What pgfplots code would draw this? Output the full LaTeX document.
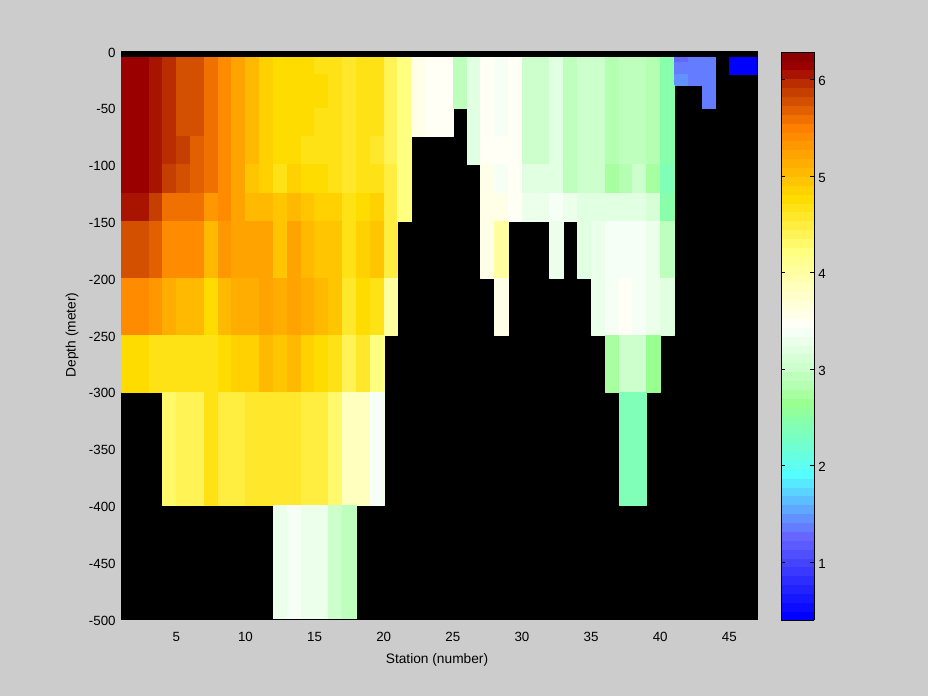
\documentclass[border=0pt]{standalone}
\usepackage{fontspec}
\setmainfont{Liberation Sans}
\usepackage{pgfplots}
\pgfplotsset{compat=1.18}
\definecolor{figbg}{RGB}{204,204,204}

% cells: top depth, bottom depth, one value per station interval (0 = no data)
\gdef\celldata{}
\newcommand\addrow[3]{%
  \foreach \v [count=\c] in {#3} {%
    \ifdim\v pt>0pt
      \xdef\celldata{\celldata
        (\c,#1) [\v] (\the\numexpr\c+1\relax,#1) [\v]
        (\the\numexpr\c+1\relax,#2) [\v] (\c,#2) [\v] }%
    \fi
  }%
}
\addrow{-5}{-10}{6.15,6.15,6.06,5.97,5.75,5.75,5.59,5.4,5.2,5.03,4.87,4.75,4.75,4.75,4.68,4.68,4.58,4.66,4.66,4.42,4.22,3.55,3.5,3.5,2.93,3.2,3.48,3.4,3.5,3.02,3.02,3.2,2.93,3.02,3.02,2.86,2.93,2.93,2.86,2.47,1.25,1.4,1.4,0,0.45,0.45}
\addrow{-10}{-20}{6.15,6.15,6.06,5.97,5.75,5.75,5.59,5.4,5.2,5.03,4.87,4.75,4.75,4.75,4.68,4.68,4.58,4.66,4.66,4.42,4.22,3.55,3.5,3.5,2.93,3.2,3.48,3.4,3.5,3.02,3.02,3.2,2.93,3.02,3.02,2.86,2.93,2.93,2.86,2.47,1.4,1.4,1.4,0,0.45,0.45}
\addrow{-20}{-30}{6.15,6.15,6.06,5.97,5.75,5.75,5.59,5.4,5.2,5.03,4.87,4.75,4.75,4.75,4.75,4.68,4.58,4.66,4.66,4.42,4.22,3.55,3.5,3.5,2.93,3.2,3.48,3.4,3.5,3.02,3.02,3.2,2.93,3.02,3.02,2.86,2.93,2.93,2.86,2.47,1.5,1.4,1.4,0,0,0}
\addrow{-30}{-50}{6.15,6.15,6.06,5.97,5.75,5.75,5.59,5.4,5.2,5.03,4.87,4.75,4.75,4.75,4.75,4.68,4.58,4.66,4.66,4.42,4.22,3.55,3.5,3.5,2.93,3.2,3.48,3.4,3.5,3.02,3.02,3.2,2.93,3.02,3.02,2.86,2.93,2.93,2.86,2.47,0,0,1.4,0,0,0}
\addrow{-50}{-75}{6.15,6.15,6.06,5.97,5.75,5.75,5.59,5.4,5.2,5.03,4.87,4.75,4.75,4.75,4.68,4.68,4.58,4.66,4.66,4.42,4.22,3.55,3.5,3.5,0,3.2,3.48,3.4,3.5,3.02,3.02,3.2,2.93,3.02,3.02,2.86,2.93,2.93,2.86,2.47,0,0,0,0,0,0}
\addrow{-75}{-100}{6.15,6.15,6.06,5.97,5.87,5.68,5.59,5.4,5.2,5.03,4.87,4.75,4.75,4.68,4.68,4.68,4.58,4.66,4.55,4.42,4.22,0,0,0,0,3.2,3.48,3.5,3.5,3.02,3.02,3.2,2.93,3.02,3.02,2.86,2.93,2.93,2.86,2.47,0,0,0,0,0,0}
\addrow{-100}{-125}{6.15,6.15,6.06,5.87,5.78,5.68,5.59,5.4,5.2,4.97,4.87,4.72,4.85,4.75,4.75,4.68,4.6,4.7,4.7,4.47,4.22,0,0,0,0,0,3.58,3.38,3.48,3.2,3.2,3.2,2.93,3.02,3.02,2.75,2.86,3.0,2.75,2.38,0,0,0,0,0,0}
\addrow{-125}{-150}{6.06,6.06,5.87,5.59,5.59,5.59,5.32,5.45,5.2,5.08,5.08,4.94,5.03,4.94,4.85,4.85,4.72,4.75,4.87,4.47,4.22,0,0,0,0,0,3.58,3.58,3.5,3.3,3.3,3.4,3.3,3.2,3.2,3.2,3.2,3.2,3.1,2.47,0,0,0,0,0,0}
\addrow{-150}{-200}{5.75,5.75,5.68,5.4,5.4,5.4,5.03,5.3,5.2,5.2,5.2,4.97,5.2,5.0,4.94,4.94,4.7,4.85,4.97,4.47,0,0,0,0,0,0,3.58,4.05,0,0,0,3.3,0,3.2,3.3,3.38,3.38,3.38,3.3,2.93,0,0,0,0,0,0}
\addrow{-200}{-250}{5.4,5.4,5.32,5.12,5.03,5.03,4.75,5.0,5.12,5.12,5.2,5.15,5.25,5.15,5.08,4.97,4.62,4.75,4.68,4.05,0,0,0,0,0,0,0,3.58,0,0,0,0,0,0,3.3,3.38,3.48,3.4,3.3,3.2,0,0,0,0,0,0}
\addrow{-250}{-300}{4.75,4.75,4.7,4.7,4.7,4.63,4.63,4.75,4.85,4.87,5.0,4.94,5.0,4.82,4.77,4.68,4.42,4.55,4.22,0,0,0,0,0,0,0,0,0,0,0,0,0,0,0,0,2.75,3.02,3.02,2.65,0,0,0,0,0,0,0}
\addrow{-300}{-400}{0,0,0,4.3,4.42,4.42,4.68,4.5,4.5,4.62,4.62,4.62,4.62,4.5,4.47,4.3,3.85,3.85,3.38,0,0,0,0,0,0,0,0,0,0,0,0,0,0,0,0,0,2.4,2.4,0,0,0,0,0,0,0,0}
\addrow{-400}{-500}{0,0,0,0,0,0,0,0,0,0,0,3.3,3.38,3.3,3.3,3.02,2.93,0,0,0,0,0,0,0,0,0,0,0,0,0,0,0,0,0,0,0,0,0,0,0,0,0,0,0,0,0}

\begin{document}
\begin{tikzpicture}
\fill[figbg] (0,0) rectangle (696pt,522pt);
\begin{axis}[
  at={(90.75pt,57.75pt)}, anchor=south west,
  scale only axis, width=477pt, height=426pt,
  xmin=1, xmax=47, ymin=-500, ymax=0,
  xtick={5,10,...,45}, ytick={-500,-450,...,0},
  axis background/.style={fill=black},
  tick align=inside, tick style={black},
  font=\fontsize{10}{12}\selectfont,
  label style={font=\fontsize{10.3}{12}\selectfont},
  xticklabel style={yshift=-6.5pt},
  yticklabel style={yshift=-1.2pt, xshift=-0.5pt},
  xlabel style={yshift=-1.75pt, xshift=-1.5pt},
  ylabel style={yshift=1pt},
  /pgf/number format/assume math mode=true,
  /pgf/number format/.cd, 1000 sep={}, /pgfplots/.cd,
  xlabel={Station (number)}, ylabel={Depth (meter)},
  colormap={watermap}{
    rgb255=(0,0,255) rgb255=(11,11,255) rgb255=(23,23,255) rgb255=(34,34,255)
    rgb255=(45,45,255) rgb255=(57,57,255) rgb255=(68,68,255) rgb255=(79,79,255)
    rgb255=(91,91,255) rgb255=(102,102,255) rgb255=(100,124,255) rgb255=(97,146,255)
    rgb255=(95,168,255) rgb255=(92,190,255) rgb255=(90,211,255) rgb255=(87,233,255)
    rgb255=(85,255,255) rgb255=(94,255,240) rgb255=(102,255,225) rgb255=(111,255,210)
    rgb255=(119,255,196) rgb255=(128,255,185) rgb255=(136,255,170) rgb255=(145,255,155)
    rgb255=(153,255,145) rgb255=(168,255,160) rgb255=(180,255,178) rgb255=(191,255,190)
    rgb255=(205,255,205) rgb255=(215,255,215) rgb255=(225,255,225) rgb255=(235,255,235)
    rgb255=(246,255,246) rgb255=(255,255,245) rgb255=(255,255,232) rgb255=(255,255,218)
    rgb255=(255,255,204) rgb255=(255,255,190) rgb255=(255,255,175) rgb255=(255,255,160)
    rgb255=(255,255,145) rgb255=(255,255,128) rgb255=(255,249,107) rgb255=(255,243,85)
    rgb255=(255,237,64) rgb255=(255,232,43) rgb255=(255,226,21) rgb255=(255,220,0)
    rgb255=(255,209,0) rgb255=(255,197,0) rgb255=(255,186,0) rgb255=(255,174,0)
    rgb255=(255,163,0) rgb255=(255,151,0) rgb255=(255,140,0) rgb255=(255,128,0)
    rgb255=(240,112,0) rgb255=(226,96,0) rgb255=(211,80,0) rgb255=(197,64,0)
    rgb255=(185,45,0) rgb255=(168,20,0) rgb255=(155,0,0) rgb255=(139,0,0)
  },
  colormap access=piecewise constant,
  point meta min=0.4, point meta max=6.285,
  colorbar sampled,
  colorbar style={
    at={(parent axis.north east)}, anchor=north west, xshift=9.75pt, yshift=-0.75pt,
    scale only axis, width=24.75pt, height=426pt,
    samples=65,
    ytick={1,2,3,4,5,6}, tick align=inside,
    tick style={black}, major tick length=3pt,
    yticklabel pos=right,
    /pgf/number format/assume math mode=true,
    yticklabel style={font=\fontsize{10}{12}\selectfont, yshift=-1.2pt, xshift=-0.5pt},
  },
]
\edef\drawcells{\noexpand\addplot[patch, patch type=rectangle, shader=faceted,
  faceted color=mapped color, line width=0.2pt, point meta=explicit]
  coordinates {\celldata};}
\drawcells
\end{axis}
\end{tikzpicture}
\end{document}
